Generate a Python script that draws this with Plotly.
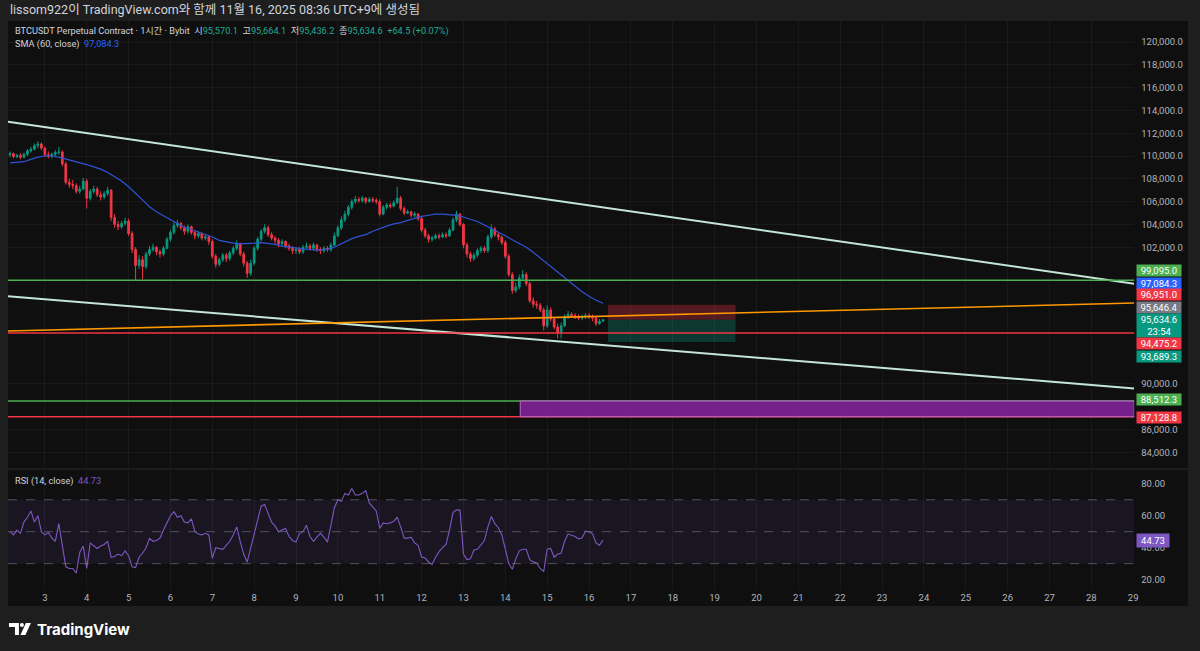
import pandas as pd
import plotly.graph_objects as go

# ---------------- data ----------------
candle_start = "2025-11-02 04:00"   # 2-hour candles
first_open = 110100

closes = [
    # Nov 2
    110200, 109950, 110050, 109900, 110150, 110450, 110600, 110900, 111050, 110700,
    # Nov 3
    110100, 110000, 110150, 110300, 110350, 109300, 107700, 107500, 107400, 106900, 107100, 107800,
    # Nov 4
    106300, 106900, 107100, 106600, 106400, 106700, 107000, 104600, 104000, 103800, 104100, 104300,
    # Nov 5
    103200, 101800, 100400, 100900, 100300, 101400, 101800, 102000, 101600, 101400, 101900, 102700,
    # Nov 6
    103300, 103900, 104100, 103700, 103400, 103800, 103300, 103000, 103200, 102800, 102900, 102500,
    # Nov 7
    101200, 100500, 100900, 101300, 101000, 101500, 101900, 102300, 101400, 100600, 99700, 100600,
    # Nov 8
    101900, 102700, 103400, 103700, 103100, 102800, 102600, 102300, 102500, 102100, 101900, 101700,
    # Nov 9
    101800, 101600, 102000, 102100, 101900, 102200, 101800, 101700, 101900, 101800, 102200, 103000,
    # Nov 10
    103700, 104400, 104900, 105500, 106000, 106200, 106100, 106300, 106000, 106200, 106100, 106000,
    # Nov 11
    104900, 105500, 105700, 105600, 105900, 106300, 105400, 105000, 105100, 104800, 104900, 104500,
    # Nov 12
    103500, 103000, 102700, 102800, 103000, 102900, 103100, 103000, 103500, 104400, 104900, 104000,
    # Nov 13
    102200, 101400, 101000, 101300, 101700, 101900, 101700, 102900, 103600, 103100, 102900, 102400,
    # Nov 14
    101200, 99600, 98200, 98500, 99300, 99600, 98800, 97300, 97000, 96900, 96500, 95100,
    # Nov 15
    96500, 95700, 95000, 94500, 95100, 95900, 96100, 96000, 95900, 95800, 95900, 96000,
    # Nov 16
    95900, 95800, 95300, 95500, 95634.6,
]

highs = [
    110400, 110300, 110200, 110250, 110300, 110600, 110800, 111100, 111300, 111200,
    110800, 110400, 110300, 110500, 110800, 110500, 109500, 108000, 107900, 107600, 107400, 108100,
    108000, 107100, 107400, 107300, 106900, 106900, 107300, 107100, 104900, 104300, 104300, 104600,
    104500, 103400, 102000, 101300, 101200, 101600, 102100, 102300, 102100, 101800, 102100, 102900,
    103500, 104200, 104400, 104200, 103900, 104000, 103900, 103500, 103400, 103300, 103100, 103000,
    102700, 101400, 101100, 101500, 101500, 101700, 102100, 102600, 102400, 101600, 100800, 100900,
    102100, 102900, 103600, 104000, 103900, 103300, 103000, 102800, 102700, 102600, 102300, 102100,
    102000, 102000, 102200, 102400, 102300, 102400, 102300, 102000, 102100, 102100, 102400, 103300,
    103900, 104700, 105200, 105700, 106200, 106500, 106400, 106500, 106400, 106400, 106400, 106300,
    106200, 105700, 105900, 105900, 106100, 107300, 106500, 105600, 105300, 105200, 105100, 105000,
    104700, 103700, 103200, 103000, 103200, 103200, 103300, 103300, 103700, 104600, 105200, 105000,
    104100, 102400, 101600, 101500, 101900, 102100, 102100, 103100, 104000, 103800, 103300, 103000,
    102600, 101400, 99800, 98900, 99600, 100000, 99800, 99000, 97600, 97300, 97100, 96700,
    96900, 96700, 95900, 95300, 95400, 96100, 96400, 96300, 96200, 96100, 96100, 96200,
    96200, 96100, 95900, 95700, 95664.1,
]

lows = [
    109900, 109800, 109800, 109700, 109800, 110000, 110300, 110500, 110700, 110500,
    109900, 109800, 109800, 110000, 110100, 109100, 107500, 107200, 107100, 106700, 106700, 107000,
    105400, 106100, 106700, 106400, 106100, 106200, 106500, 104300, 103700, 103500, 103600, 103900,
    103000, 101500, 99100, 100100, 99200, 100100, 101200, 101600, 101300, 101100, 101200, 101800,
    102500, 103100, 103700, 103500, 103100, 103200, 103100, 102700, 102800, 102600, 102600, 102200,
    101000, 100200, 100300, 100700, 100700, 100800, 101300, 101700, 101200, 100300, 99300, 99500,
    100400, 101700, 102500, 103200, 102900, 102600, 102300, 102000, 102100, 101900, 101700, 101400,
    101400, 101400, 101400, 101800, 101700, 101700, 101600, 101400, 101500, 101600, 101600, 102100,
    102900, 103500, 104200, 104700, 105300, 105800, 105900, 105900, 105800, 105900, 105900, 105800,
    104700, 104800, 105300, 105400, 105500, 105800, 105200, 104800, 104900, 104600, 104600, 104300,
    103300, 102800, 102400, 102500, 102700, 102700, 102800, 102800, 102900, 103400, 104200, 103800,
    101900, 101100, 100700, 100800, 101100, 101500, 101500, 101500, 102700, 102900, 102600, 102200,
    101000, 99400, 97900, 98000, 98300, 99100, 98600, 97100, 96700, 96600, 96300, 94700,
    94900, 95500, 94800, 94000, 94000, 95000, 95700, 95800, 95700, 95600, 95600, 95700,
    95700, 95500, 95100, 95200, 95436.2,
]

rsi_values = [
    50, 48, 51, 49, 56, 59, 63, 56, 60, 50,
    48, 49.5, 46, 44, 55, 41, 28, 27, 27, 24, 37, 41,
    27, 43, 41, 39.5, 41, 42, 44, 34, 34.5, 36, 35, 38,
    35, 28, 27.5, 34, 36.5, 40, 45.8, 44, 44.5, 46, 51, 55.5,
    60, 62.5, 59, 60, 56, 55.5, 58, 50, 48.5, 48, 49, 48,
    33.4, 40, 39.5, 39, 41.5, 44, 48, 53, 44, 36, 31, 40,
    50, 59, 66, 67, 62, 56, 53.5, 50, 51, 52, 47, 44.5,
    43.5, 49, 50, 54, 47, 44, 46.6, 49, 46.6, 43.5, 54, 65,
    70, 69, 74, 73, 77, 73, 73, 74, 75.7, 68, 65.5, 63,
    52, 55.5, 55, 55.5, 56.5, 59, 53, 46, 46, 46.5, 43, 41.5,
    34.2, 33.5, 31, 29.5, 34, 37.5, 40, 42, 51, 62, 63.7, 63.5,
    36, 32.5, 33, 38.5, 39, 41.5, 44.5, 53, 59.5, 55, 52.5, 48,
    38.4, 30, 26.5, 33, 38, 39, 39, 32.5, 31.1, 30.5, 27, 25,
    39, 39.5, 34, 36, 36.5, 44, 48.5, 47.6, 47, 45.5, 46, 50.4,
    50, 48.7, 43, 41.5, 44.73,
]

sma_start = "2025-11-02 04:00"   # 4-hour samples of SMA(60)
sma_values = [
    109400, 109420, 109500, 109700, 109900,
    110000, 110000, 109900, 109750, 109600, 109400,
    109250, 109050, 108850, 108550, 108200, 107800,
    107300, 106750, 106150, 105550, 105100, 104750,
    104400, 104050, 103750, 103550, 103350, 103100,
    102900, 102600, 102450, 102350, 102300, 102300,
    102350, 102400, 102350, 102250, 102100, 102000,
    101950, 101850, 101800, 101750, 101800, 101900,
    102150, 102450, 102750, 102950, 103100, 103400,
    103650, 103850, 104050, 104150, 104350, 104550,
    104700, 104800, 104900, 104900, 104850, 104800,
    104650, 104450, 104250, 103950, 103650, 103350,
    103000, 102650, 102350, 102000, 101550, 101050,
    100550, 100050, 99550, 99050, 98600, 98100,
    97700, 97350, 97084.3,
]

# price-scale tick labels that are not hidden behind the badges
price_ticks = [84000, 86000, 90000, 102000, 104000, 106000, 108000, 110000,
               112000, 114000, 116000, 118000, 120000]
rsi_ticks = [20, 40, 60, 80]

# drawings
channel_dates = ["2025-11-02 02:51", "2025-11-29 00:34"]
upper_channel = [113000, 98800]
lower_channel = [97700, 89600]
orange_line = [94650, 97100]
green_levels = [99095.0, 88512.3]
red_levels = [94475.2, 87128.8]
zone_start = "2025-11-14 08:34"
zone_prices = [87128.8, 88512.3]
pos_dates = ["2025-11-16 10:51", "2025-11-19 12:00"]
pos_stop, pos_entry, pos_target = 96951.0, 95646.4, 93689.3

# right scale badges: (text, price, colour, vertical stacking shift in px, box height)
badges = [
    ("99,095.0", 99095.0, "#4caf50", 10, 11),
    ("97,084.3", 97084.3, "#2962ff", 20, 11),
    ("96,951.0", 96951.0, "#f23645", 10, 11),
    ("95,646.4", 95646.4, "#787b86", 12, 11),
    ("95,634.6<br>23:54", 95634.6, "#089981", -6, 23),
    ("94,475.2", 94475.2, "#f23645", -11, 11),
    ("93,689.3", 93689.3, "#089981", -15, 11),
    ("88,512.3", 88512.3, "#4caf50", 1, 11),
    ("87,128.8", 87128.8, "#f23645", -1, 11),
]

# ---------------- figure ----------------
times = pd.date_range(candle_start, periods=len(closes), freq="2h")
opens = [first_open] + closes[:-1]
hi = [max(h, o, c) for h, o, c in zip(highs, opens, closes)]
lo = [min(l, o, c) for l, o, c in zip(lows, opens, closes)]
sma_times = pd.date_range(sma_start, periods=len(sma_values), freq="4h")

W, H = 1200, 651
def px_x(p):
    return p / W
def px_y(p):
    return 1 - p / H

FONT = "Roboto, 'Noto Sans CJK KR', sans-serif"
GRID = "rgba(255,255,255,0.045)"
TICK = "#b2b5be"

fig = go.Figure()

fig.add_trace(go.Candlestick(
    x=times, open=opens, high=hi, low=lo, close=closes,
    increasing=dict(line=dict(color="#089981", width=1), fillcolor="#089981"),
    decreasing=dict(line=dict(color="#f23645", width=1), fillcolor="#f23645"),
    whiskerwidth=0, xaxis="x", yaxis="y", hoverinfo="skip", showlegend=False,
))

fig.add_trace(go.Scatter(x=sma_times, y=sma_values, mode="lines",
                         line=dict(color="#2f54d6", width=1.2),
                         xaxis="x", yaxis="y", hoverinfo="skip", showlegend=False))

for prices, col, w in [(upper_channel, "#c3e6d6", 2), (lower_channel, "#c3e6d6", 2),
                       (orange_line, "#ff9800", 1.6)]:
    fig.add_trace(go.Scatter(x=channel_dates, y=prices, mode="lines",
                             line=dict(color=col, width=w),
                             xaxis="x", yaxis="y", hoverinfo="skip", showlegend=False))

fig.add_trace(go.Scatter(x=times, y=rsi_values, mode="lines",
                         line=dict(color="#7e57c2", width=1.1),
                         xaxis="x", yaxis="y2", hoverinfo="skip", showlegend=False))

shapes = []
# panel background
shapes.append(dict(type="rect", xref="paper", yref="paper", x0=px_x(8), x1=px_x(1192),
                   y0=px_y(606), y1=px_y(21), fillcolor="#0f0f0f", line=dict(width=0),
                   layer="below"))
# pane separator
shapes.append(dict(type="line", xref="paper", yref="paper", x0=px_x(8), x1=px_x(1192),
                   y0=px_y(469), y1=px_y(469), line=dict(color="#2a2a2a", width=1)))
# horizontal levels
for lv in green_levels:
    shapes.append(dict(type="line", xref="x domain", yref="y", x0=0, x1=1, y0=lv, y1=lv,
                       line=dict(color="#4caf50", width=1.5)))
for lv in red_levels:
    shapes.append(dict(type="line", xref="x domain", yref="y", x0=0, x1=1, y0=lv, y1=lv,
                       line=dict(color="#f23645", width=1.5)))
# purple zone
shapes.append(dict(type="rect", xref="x", yref="y", x0=zone_start, x1=channel_dates[1],
                   y0=zone_prices[0], y1=zone_prices[1],
                   fillcolor="rgba(142,36,170,0.8)", line=dict(color="#ba68c8", width=1)))
# short position tool
shapes.append(dict(type="rect", xref="x", yref="y", x0=pos_dates[0], x1=pos_dates[1],
                   y0=pos_entry, y1=pos_stop, fillcolor="rgba(242,54,69,0.30)",
                   line=dict(width=0), layer="below"))
shapes.append(dict(type="rect", xref="x", yref="y", x0=pos_dates[0], x1=pos_dates[1],
                   y0=pos_target, y1=pos_entry, fillcolor="rgba(8,153,129,0.30)",
                   line=dict(width=0), layer="below"))
# RSI band and levels
shapes.append(dict(type="rect", xref="x domain", yref="y2", x0=0, x1=1, y0=30, y1=70,
                   fillcolor="rgba(126,87,194,0.10)", line=dict(width=0), layer="below"))
for lv in (70, 50, 30):
    shapes.append(dict(type="line", xref="x domain", yref="y2", x0=0, x1=1, y0=lv, y1=lv,
                       line=dict(color="rgba(120,123,134,0.6)", width=1, dash="dash")))
# TradingView logo glyph
shapes.append(dict(type="path", xref="paper", yref="paper",
                   path=(f"M {px_x(9)} {px_y(623)} L {px_x(19)} {px_y(623)} L {px_x(19)} {px_y(635)} "
                         f"L {px_x(15)} {px_y(635)} L {px_x(15)} {px_y(627)} L {px_x(9)} {px_y(627)} Z"),
                   fillcolor="#ffffff", line=dict(width=0)))
shapes.append(dict(type="circle", xref="paper", yref="paper", x0=px_x(20), x1=px_x(24),
                   y0=px_y(627), y1=px_y(623), fillcolor="#ffffff", line=dict(width=0)))
shapes.append(dict(type="path", xref="paper", yref="paper",
                   path=(f"M {px_x(26)} {px_y(623)} L {px_x(31)} {px_y(623)} L {px_x(25.5)} {px_y(635)} "
                         f"L {px_x(20.5)} {px_y(635)} Z"),
                   fillcolor="#ffffff", line=dict(width=0)))

ann = []
ann.append(dict(xref="paper", yref="paper", x=px_x(8), y=px_y(10), xanchor="left", yanchor="middle",
                text="lissom922이 TradingView.com와 함께 11월 16, 2025 08:36 UTC+9에 생성됨",
                showarrow=False, font=dict(family=FONT, size=12.5, color="#d1d4dc")))
G = "#22ab94"
nb = "\u00a0"
hdr = (f"BTCUSDT Perpetual Contract · 1시간 · Bybit{nb}{nb}시<span style='color:{G}'>95,570.1</span>"
       f"{nb}{nb}고<span style='color:{G}'>95,664.1</span>{nb}{nb}저<span style='color:{G}'>95,436.2</span>"
       f"{nb}{nb}종<span style='color:{G}'>95,634.6</span>{nb}{nb}<span style='color:{G}'>+64.5 (+0.07%)</span>")
ann.append(dict(xref="paper", yref="paper", x=px_x(13), y=px_y(31), xanchor="left", yanchor="middle",
                text=hdr, showarrow=False, font=dict(family=FONT, size=9.2, color="#d1d4dc")))
ann.append(dict(xref="paper", yref="paper", x=px_x(13), y=px_y(44), xanchor="left", yanchor="middle",
                text=f"SMA (60, close){nb}{nb}<span style='color:#2962ff'>97,084.3</span>",
                showarrow=False, font=dict(family=FONT, size=9.2, color="#d1d4dc")))
ann.append(dict(xref="paper", yref="paper", x=px_x(13), y=px_y(481), xanchor="left", yanchor="middle",
                text=f"RSI (14, close){nb}{nb}<span style='color:#7e57c2'>44.73</span>",
                showarrow=False, font=dict(family=FONT, size=9.2, color="#d1d4dc")))
ann.append(dict(xref="paper", yref="paper", x=px_x(35), y=px_y(629), xanchor="left", yanchor="middle",
                text="<b>TradingView</b>", showarrow=False,
                font=dict(family="Inter, Roboto, sans-serif", size=15, color="#ffffff")))
for txt, price, col, shift, hgt in badges:
    ann.append(dict(xref="paper", yref="y", x=px_x(1140), y=price, yshift=shift,
                    xanchor="left", yanchor="middle", text=txt, showarrow=False,
                    bgcolor=col, borderpad=0, width=44, height=hgt, align="center",
                    font=dict(family=FONT, size=9.5, color="#ffffff")))
ann.append(dict(xref="paper", yref="y2", x=px_x(1140), y=rsi_values[-1],
                xanchor="left", yanchor="middle", text=f"{rsi_values[-1]:.2f}", showarrow=False,
                bgcolor="#7e57c2", borderpad=0, width=32, height=13, align="center",
                font=dict(family=FONT, size=9.5, color="#ffffff")))

fig.update_layout(
    width=W, height=H, margin=dict(l=0, r=0, t=0, b=0),
    paper_bgcolor="#1e1e1e", plot_bgcolor="#0f0f0f",
    font=dict(family=FONT, color=TICK),
    showlegend=False, hovermode=False,
    shapes=shapes, annotations=ann,
    xaxis=dict(domain=[px_x(8), px_x(1138)], anchor="y2", type="date",
               range=channel_dates, tickformat="%-d", dtick=86400000, tick0="2025-11-03",
               tickfont=dict(size=9.5, color=TICK), showgrid=True, gridcolor=GRID,
               zeroline=False, showline=False, ticks="", rangeslider=dict(visible=False)),
    yaxis=dict(domain=[px_y(468), px_y(21)], anchor="x", side="right",
               range=[82631, 121842], tickvals=price_ticks, tickformat=",.1f",
               tickfont=dict(size=9.5, color=TICK), showgrid=True, gridcolor=GRID,
               zeroline=False, showline=False, ticks="", ticklabelstandoff=6),
    yaxis2=dict(domain=[px_y(590), px_y(471)], anchor="x", side="right",
                range=[13.5, 88], tickvals=rsi_ticks, tickformat=".2f",
                tickfont=dict(size=9.5, color=TICK), showgrid=False,
                zeroline=False, showline=False, ticks="", ticklabelstandoff=6),
)

fig.write_html(
    "out.html",
    config={"displayModeBar": False},
    post_script="document.body.style.margin='0px';document.body.style.padding='0px';"
                "document.body.style.overflow='hidden';",
)
